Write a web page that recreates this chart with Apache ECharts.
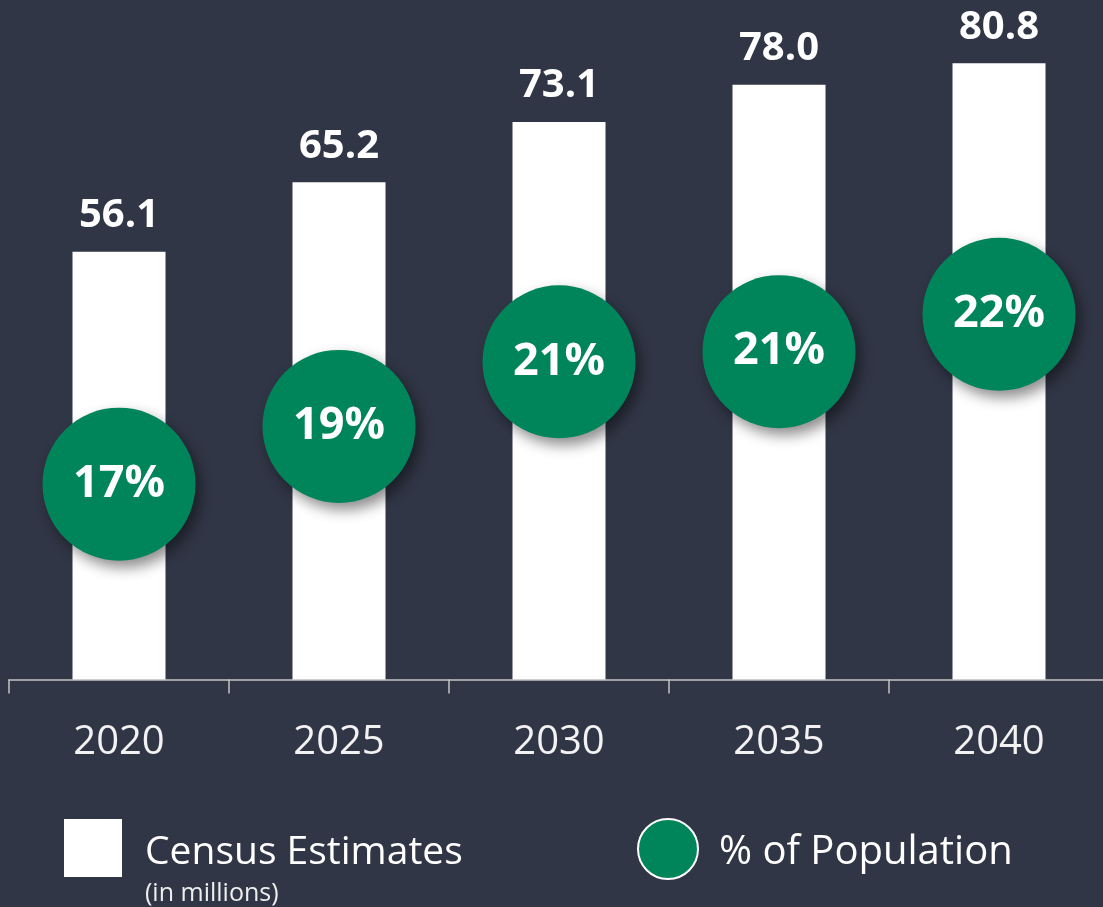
<!DOCTYPE html>
<html>
<head>
<meta charset="utf-8">
<script src="https://cdn.jsdelivr.net/npm/echarts@6/dist/echarts.min.js"></script>
<style>
html, body { margin: 0; padding: 0; background: #313646; }
#main { width: 1103px; height: 907px; }
</style>
</head>
<body>
<div id="main"></div>
<script>
// 数据
var years = ['2020', '2025', '2030', '2035', '2040'];
var censusEstimates = [56.1, 65.2, 73.1, 78.0, 80.8];   // in millions
var populationShare = [17.0, 18.7, 20.6, 20.9, 22.0];   // % of population (estimated, labels rounded)

var font = '"Open Sans", "Noto Sans", sans-serif';
var green = '#00855a';

var myChart = echarts.init(document.getElementById('main'));
var option = {
    backgroundColor: '#313646',
    animation: false,
    grid: {
        left: 9,
        top: 0,
        width: 1100,
        bottom: 227.5,
        outerBoundsMode: 'none',
        containLabel: false
    },
    legend: [{
        left: 64,
        top: 819,
        padding: 0,
        selectedMode: false,
        itemWidth: 58,
        itemHeight: 58,
        data: [{name: 'Census Estimates', icon: 'rect'}],
        itemStyle: {color: '#ffffff'},
        formatter: '{a|{name}}',
        textStyle: {
            color: '#ffffff', fontSize: 39, fontFamily: font,
            rich: {a: {color: '#ffffff', fontSize: 39, fontFamily: font, padding: [10, 0, 0, 18]}}
        }
    }, {
        left: 637,
        top: 818,
        padding: 0,
        selectedMode: false,
        itemWidth: 60,
        itemHeight: 60,
        data: [{name: '% of Population', icon: 'circle'}],
        itemStyle: {
            color: green, borderColor: '#ffffff', borderWidth: 2,
            shadowBlur: 0, shadowOffsetX: 0, shadowOffsetY: 0, shadowColor: 'rgba(0,0,0,0)'
        },
        formatter: '{a|{name}}',
        textStyle: {
            color: '#ffffff', fontSize: 40, fontFamily: font,
            rich: {a: {color: '#ffffff', fontSize: 40, fontFamily: font, padding: [8, 0, 0, 16]}}
        }
    }],
    graphic: [{
        type: 'text',
        left: 145,
        top: 881,
        style: {text: '(in millions)', fill: '#eeeeee', fontSize: 25, fontFamily: font}
    }],
    xAxis: {
        type: 'category',
        data: years,
        axisLine: {show: true, lineStyle: {color: '#c4c4c4', width: 1.5}},
        axisTick: {show: true, alignWithLabel: false, length: 14, lineStyle: {color: '#c4c4c4', width: 1.5}},
        axisLabel: {color: '#f2f2f2', fontSize: 40, fontFamily: font, margin: 43}
    },
    yAxis: [{
        type: 'value',
        min: 0,
        max: 89.1,
        show: false
    }, {
        type: 'value',
        min: 11.25,
        max: 31.25,
        show: false
    }],
    series: [{
        name: 'Census Estimates',
        type: 'bar',
        data: censusEstimates,
        barWidth: 93,
        itemStyle: {color: '#ffffff'},
        label: {
            show: true,
            position: 'top',
            distance: 16,
            color: '#ffffff',
            fontSize: 40,
            fontWeight: 'bold',
            fontFamily: font,
            formatter: function (p) { return p.value.toFixed(1); }
        }
    }, {
        name: '% of Population',
        type: 'scatter',
        yAxisIndex: 1,
        data: populationShare,
        symbol: 'circle',
        symbolSize: 153,
        z: 5,
        itemStyle: {
            color: green,
            opacity: 1,
            shadowBlur: 14,
            shadowOffsetX: 5,
            shadowOffsetY: 7,
            shadowColor: 'rgba(0,0,0,0.45)'
        },
        label: {
            show: true,
            position: 'inside',
            color: '#ffffff',
            fontSize: 45,
            fontWeight: 'bold',
            fontFamily: font,
            formatter: function (p) { return Math.round(p.value) + '%'; }
        }
    }]
};
myChart.setOption(option);
</script>
</body>
</html>
